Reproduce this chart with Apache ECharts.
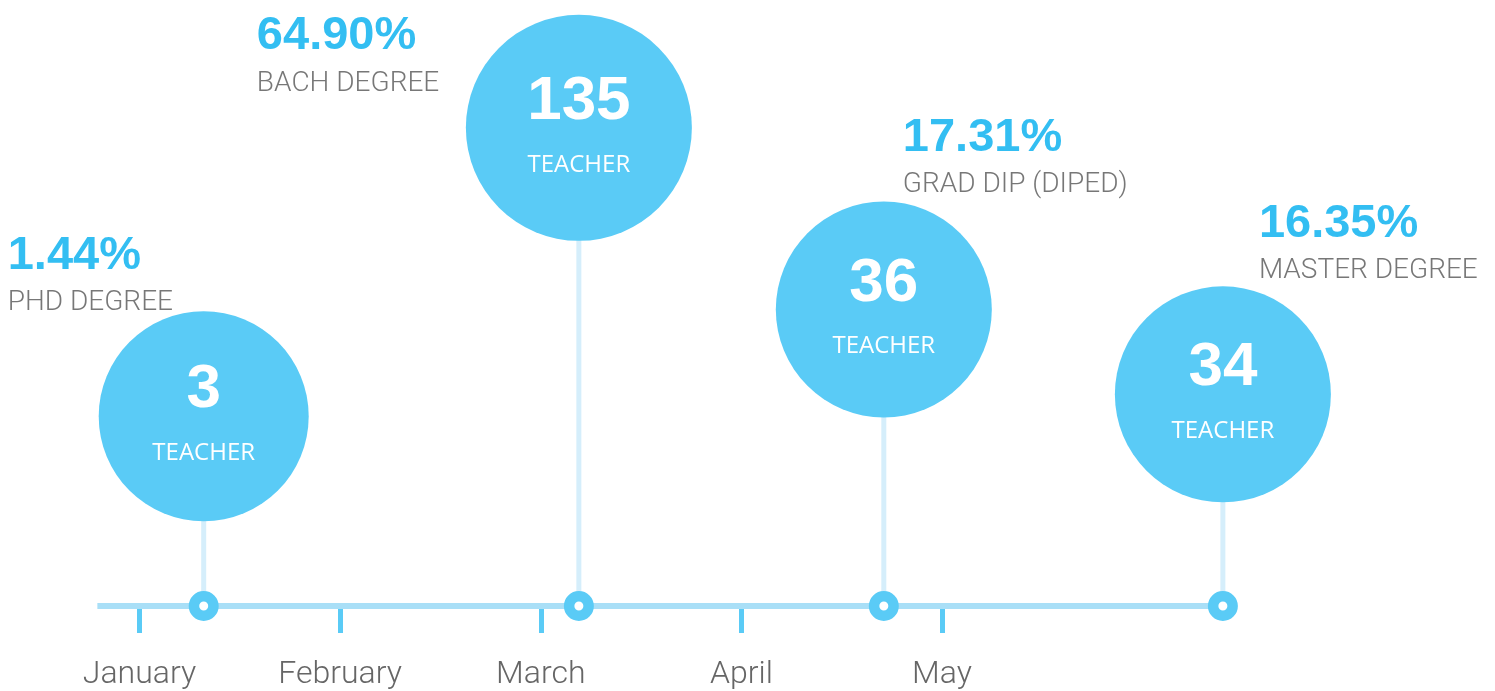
<!DOCTYPE html>
<html lang="en">
<head>
    <meta charset="UTF-8">
    <title>Teacher qualifications</title>
    <script src="https://cdn.jsdelivr.net/npm/echarts@6/dist/echarts.min.js"></script>
    <style>
        html, body { margin: 0; padding: 0; background: #fff; }
    </style>
</head>
<body>
    <div id="timeline" style="width:1495px;height:691px;"></div>
<script>
    // months on the axis
    var months = ['January', 'February', 'March', 'April', 'May'];
    // where each milestone sits on the month axis
    var milestoneX = [0.32, 2.19, 3.71, 5.40];
    // how high the bubble floats above the axis
    var bubbleHeight = [190, 479, 297, 212];
    var teacherCount = [3, 135, 36, 34];
    var percentages = ['1.44%', '64.90%', '17.31%', '16.35%'];
    var degrees = ['PHD DEGREE', 'BACH DEGREE', 'GRAD DIP (DIPED)', 'MASTER DEGREE'];
    // axis line runs from a little before January to the last milestone
    var axisStart = -0.21;

    // layout only
    var bubbleSize = [210, 226, 216, 216];
    var tagOffset = [[-195, -187], [-321, -118], [20, -198], [37, -197]];

    var BLUE = '#5acbf6';
    var chart = echarts.init(document.getElementById('timeline'));

    var bubbles = [], tags = [], markers = [], stems = [];
    for (var i = 0; i < milestoneX.length; i++) {
        bubbles.push({
            value: [milestoneX[i], bubbleHeight[i]],
            symbolSize: bubbleSize[i],
            label: { formatter: '{n|' + teacherCount[i] + '}\n{t|TEACHER}' }
        });
        tags.push({
            value: [milestoneX[i], bubbleHeight[i]],
            label: {
                offset: tagOffset[i],
                formatter: '{p|' + percentages[i] + '}\n{d|' + degrees[i] + '}'
            }
        });
        markers.push([milestoneX[i], 0]);
        stems.push([milestoneX[i], 0, milestoneX[i], bubbleHeight[i]]);
    }

    // a straight segment between two data points, used for the axis and the stems
    function segment(color, width) {
        return function (params, api) {
            var a = api.coord([api.value(0), api.value(1)]);
            var b = api.coord([api.value(2), api.value(3)]);
            return {
                type: 'line',
                shape: { x1: a[0], y1: a[1], x2: b[0], y2: b[1] },
                style: { stroke: color, lineWidth: width }
            };
        };
    }

    var option = {
        animation: false,
        grid: { left: 139.5, right: 553, top: 7, bottom: 84 },
        xAxis: {
            type: 'value',
            min: 0,
            max: months.length - 1,
            interval: 1,
            splitLine: { show: false },
            axisLine: { show: false },
            axisTick: {
                show: true,
                length: 27,
                lineStyle: { color: BLUE, width: 5 }
            },
            axisLabel: {
                margin: 53,
                fontFamily: 'Roboto',
                fontWeight: 300,
                fontSize: 32,
                color: '#666666',
                formatter: function (v) { return months[v] || ''; }
            }
        },
        yAxis: {
            type: 'value',
            min: 0,
            max: 600,
            show: false
        },
        series: [
            {
                name: 'axis',
                type: 'custom',
                clip: false,
                silent: true,
                z: 1,
                renderItem: segment('#a9dff7', 6),
                data: [[axisStart, 0, milestoneX[milestoneX.length - 1], 0]]
            },
            {
                name: 'stems',
                type: 'custom',
                clip: false,
                silent: true,
                z: 2,
                renderItem: segment('#d5eefb', 5),
                data: stems
            },
            {
                name: 'markers',
                type: 'scatter',
                clip: false,
                z: 3,
                symbol: 'circle',
                symbolSize: 19.5,
                itemStyle: { color: '#fff', borderColor: BLUE, borderWidth: 10.5, opacity: 1 },
                data: markers
            },
            {
                name: 'bubbles',
                type: 'scatter',
                clip: false,
                z: 4,
                symbol: 'circle',
                itemStyle: { color: BLUE, opacity: 1 },
                label: {
                    show: true,
                    position: 'inside',
                    rich: {
                        n: {
                            fontFamily: 'Liberation Sans',
                            fontWeight: 'bold',
                            fontSize: 62,
                            color: '#fff',
                            lineHeight: 74
                        },
                        t: {
                            fontFamily: 'Open Sans',
                            fontSize: 24,
                            color: '#fff',
                            lineHeight: 52
                        }
                    }
                },
                data: bubbles
            },
            {
                name: 'tags',
                type: 'scatter',
                clip: false,
                z: 5,
                symbolSize: 2,
                itemStyle: { color: 'rgba(0,0,0,0)' },
                label: {
                    show: true,
                    position: [0, 0],
                    align: 'left',
                    verticalAlign: 'top',
                    rich: {
                        p: {
                            fontFamily: 'Liberation Sans',
                            fontWeight: 'bold',
                            fontSize: 47,
                            color: '#00aeef',
                            lineHeight: 55
                        },
                        d: {
                            fontFamily: 'Roboto',
                            fontWeight: 300,
                            fontSize: 28,
                            color: '#555555',
                            lineHeight: 40
                        }
                    }
                },
                data: tags
            }
        ]
    };
    chart.setOption(option);
</script>
</body>
</html>
